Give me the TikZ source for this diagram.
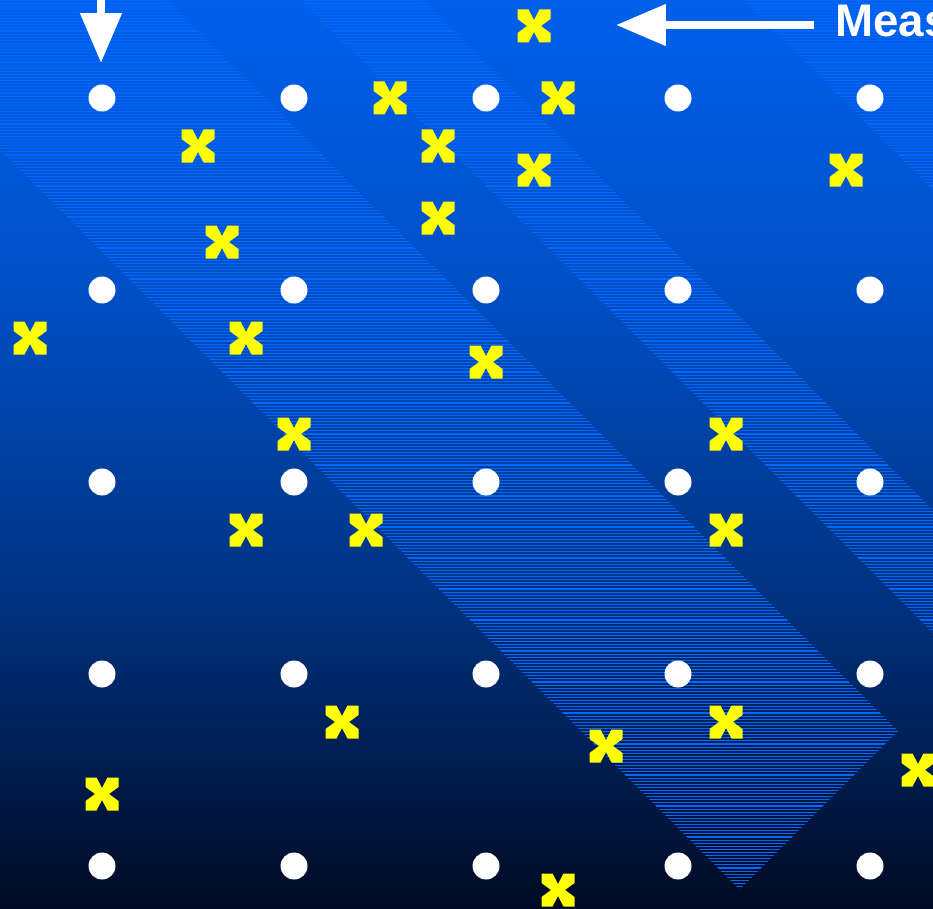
\documentclass[tikz,border=0pt]{standalone}
\usepackage{xcolor}
\usepackage{fontspec}
\setsansfont{Liberation Sans}
\usetikzlibrary{arrows.meta}

\definecolor{bgtop}{RGB}{0,96,235}
\definecolor{bgupper}{RGB}{0,78,196}
\definecolor{bgmid}{RGB}{0,50,128}
\definecolor{bglow}{RGB}{0,30,82}
\definecolor{bgbot}{RGB}{0,10,34}
\definecolor{hatchblue}{RGB}{0,104,255}
\definecolor{markyellow}{RGB}{255,255,0}

% the path is fitted to the middle half (25bp--75bp) of the shading
\pgfdeclareverticalshading{backdrop}{100bp}{color(0bp)=(bgbot); color(25bp)=(bgbot);
  color(33.5bp)=(bglow); color(42bp)=(bgmid); color(58.5bp)=(bgupper);
  color(75bp)=(bgtop); color(100bp)=(bgtop)}

\begin{document}
\begin{tikzpicture}[x=0.02cm, y=-0.02cm,
    spot/.style={circle, fill=white, inner sep=0pt, minimum size=5.4mm},
    pointer/.style={white, line width=1.6mm, -{Triangle[length=10mm, width=8mm]}},
    hatch/.style={hatchblue, line width=0.6pt},
    xmark/.pic={\fill[markyellow] (-16.5,-16.5) -- (-5.5,-16.5) -- (0,-6) -- (5.5,-16.5)
      -- (16.5,-16.5) -- (16.5,-7) -- (7,0) -- (16.5,7) -- (16.5,16.5) -- (5.5,16.5)
      -- (0,6) -- (-5.5,16.5) -- (-16.5,16.5) -- (-16.5,7) -- (-7,0) -- (-16.5,-7) -- cycle;}]
  \useasboundingbox (0,0) rectangle (933,909);
  \clip (0,0) rectangle (933,909);
  \shade[shading=backdrop] (0,0) rectangle (933,909);

  % hatched diagonal bands
  \begin{scope}
    \clip (-160,-10) -- (157,-10) -- (898,731) -- (739.5,889.5) -- cycle
          (290,-10) -- (413,-10) -- (1423,1000) -- (1300,1000) -- cycle
          (733,-10) -- (1100,-10) -- (1100,357) -- cycle;
    \foreach \y in {0,3.1,...,909}
      \draw[hatch] (0,\y) -- (933,\y);
  \end{scope}

  % grid of samples
  \foreach \i in {0,...,4}
    \foreach \j in {0,...,4}
      \node[spot] (p-\i-\j) at ({102+192*\i},{98+192*\j}) {};

  % measurements
  \foreach \x/\y in {534/26, 390/98, 558/98, 198/146, 438/146, 534/170, 846/170,
                     438/218, 222/242, 30/338, 246/338, 486/362, 294/434, 726/434,
                     246/530, 366/530, 726/530, 342/722, 726/722, 606/746, 918/770,
                     102/794, 558/890}
    \pic at (\x,\y) {xmark};

  \coordinate (drop-top) at (101,-10);
  \coordinate (drop-tip) at (101,63);
  \draw[pointer] (drop-top) -- (drop-tip);

  \node[anchor=base west, inner sep=0pt, text=white,
        font=\sffamily\bfseries\fontsize{26}{26}\selectfont] (meas) at (835,37) {Meas};
  \coordinate (meas-tail) at (814,25);
  \coordinate (meas-tip) at (616,25);
  \draw[pointer] (meas-tail) -- (meas-tip);
\end{tikzpicture}
\end{document}
